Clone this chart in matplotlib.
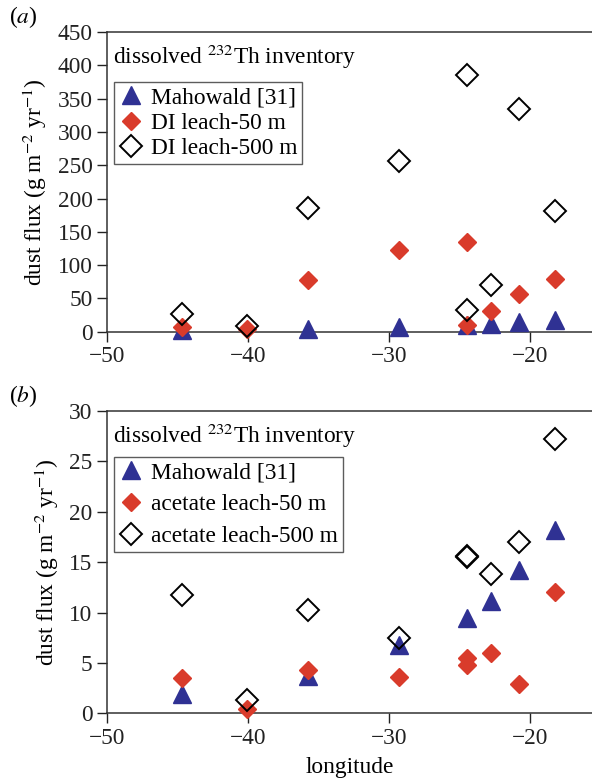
import matplotlib
matplotlib.use("Agg")
import matplotlib.pyplot as plt

plt.rcParams["font.family"] = ["Liberation Serif", "DejaVu Serif"]
plt.rcParams["mathtext.fontset"] = "stix"

# longitudes of the stations
lon = [-44.7, -40.1, -35.75, -29.3, -24.45, -24.45, -22.75, -20.8, -18.2]
# Mahowald [31] model dust flux (no value shown at -40)
maho_lon = [-44.7, -35.75, -29.3, -24.45, -22.75, -20.8, -18.2]
maho = [1.9, 3.7, 6.8, 9.5, 11.1, 14.2, 18.2]

# (a) DI leach
di_50 = [7.5, 3.5, 78, 122, 135, 10, 31, 56, 79]
di_500 = [26, 8, 186, 256, 385, 32, 70, 335, 181]

# (b) acetate leach
ac_50 = [3.5, 0.4, 4.3, 3.6, 5.5, 4.8, 6.0, 2.9, 12.0]
ac_500 = [11.7, 1.3, 10.3, 7.5, 15.5, 15.6, 13.8, 17.0, 27.2]

blue = "#2f3193"
red = "#d93b2b"
fs = 16.8

fig = plt.figure(figsize=(5.92, 7.80), dpi=100)
ax_a = fig.add_axes([0.1807, 0.5747, 0.8193, 0.3843])
ax_b = fig.add_axes([0.1807, 0.0855, 0.8193, 0.3876])


def panel(ax, y50, y500, lab50, lab500, ylim, yticks, spacing, leg_y):
    ax.plot(maho_lon, maho, "^", color=blue, ms=12.5, mec=blue, ls="none",
            label="Mahowald [31]", clip_on=False, zorder=3)
    ax.plot(lon, y50, "D", color=red, ms=9, mec=red, ls="none",
            label=lab50, clip_on=False, zorder=4)
    ax.plot(lon, y500, "D", mfc="none", mec="black", mew=1.4, ms=11.5,
            ls="none", label=lab500, clip_on=False, zorder=5)
    ax.set_xlim(-50, -15.6)
    ax.set_ylim(*ylim)
    ax.set_xticks([-50, -40, -30, -20])
    ax.set_xticklabels(["\u221250", "\u221240", "\u221230", "\u221220"])
    ax.set_yticks(yticks)
    ax.spines["right"].set_visible(False)
    ax.tick_params(direction="out", length=7.5, width=1, labelsize=fs,
                   colors="#222222", pad=3)
    for s in ["left", "bottom", "top"]:
        ax.spines[s].set_linewidth(1.1)
        ax.spines[s].set_color("#333333")
    ax.set_ylabel(r"dust flux (g m$^{-2}$ yr$^{-1}$)", fontsize=fs,
                  labelpad=6)
    ax.text(0.012, 0.965, r"dissolved $^{232}$Th inventory", transform=ax.transAxes,
            fontsize=fs, va="top", ha="left")
    leg = ax.legend(loc="upper left", bbox_to_anchor=(0.0, leg_y),
                    fontsize=fs, frameon=True, fancybox=False,
                    edgecolor="#333333", handletextpad=0.3, handlelength=1.1,
                    borderpad=0.2, labelspacing=spacing, borderaxespad=0.3)
    leg.get_frame().set_linewidth(1.0)


panel(ax_a, di_50, di_500, "DI leach-50 m", "DI leach-500 m",
      (0, 450), range(0, 451, 50), 0.17, 0.855)
panel(ax_b, ac_50, ac_500, "acetate leach-50 m", "acetate leach-500 m",
      (0, 30), range(0, 31, 5), 0.45, 0.87)

ax_b.set_xlabel("longitude", fontsize=fs, labelpad=6)

fig.text(0.015, 0.978, r"($\it{a}$)", fontsize=fs, va="center")
fig.text(0.015, 0.492, r"($\it{b}$)", fontsize=fs, va="center")

fig.savefig("out.png", dpi=100)
